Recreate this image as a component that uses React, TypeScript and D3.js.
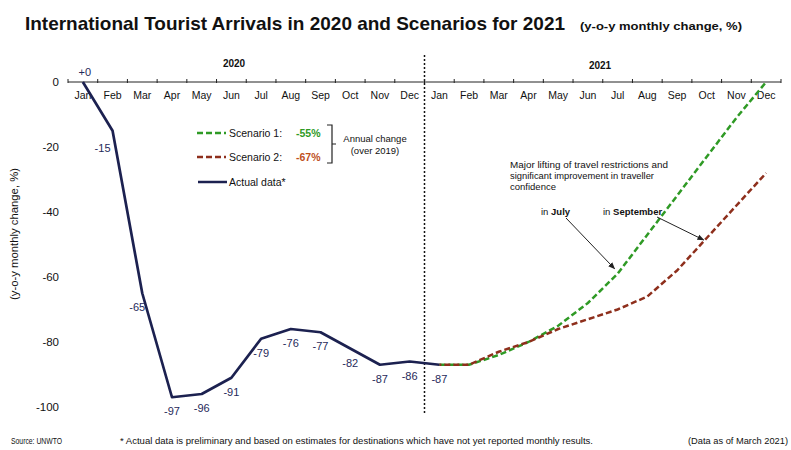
import React from "react";
import * as d3 from "d3";

const months = ["Jan","Feb","Mar","Apr","May","Jun","Jul","Aug","Sep","Oct","Nov","Dec"];
const periods = [...months.map((m) => "2020-" + m), ...months.map((m) => "2021-" + m)];
const actualKeys = [...months.map((m) => "2020-" + m), "2021-Jan"];
const actualValues = [0, -15, -65, -97, -96, -91, -79, -76, -77, -82, -87, -86, -87];
const actualLabels = ["+0", "-15", "-65", "-97", "-96", "-91", "-79", "-76", "-77", "-82", "-87", "-86", "-87"];
const scenarioKeys = months.map((m) => "2021-" + m);
const scenario1 = [-87, -87, -84, -80, -75, -68, -59, -47, -35, -23, -11, 0];
const scenario2 = [-87, -87, -83, -80, -76, -73, -70, -66, -58, -48, -38, -28];
const yTicks = [0, -20, -40, -60, -80, -100];

const FONT = "'Liberation Sans', Arial, sans-serif";
const NAVY = "#1c2150";
const GREEN = "#2f9a25";
const RED = "#8e2f1c";

export default function App() {
  const x = d3.scaleBand<string>().domain(periods).range([68, 781]).padding(0);
  const cx = (k: string) => (x(k) as number) + x.bandwidth() / 2;
  const y = d3.scaleLinear().domain([-100, 0]).range([407, 82]);

  const line = d3
    .line<[string, number]>()
    .x((d) => cx(d[0]))
    .y((d) => y(d[1]));

  const actual = actualKeys.map((k, i) => [k, actualValues[i]] as [string, number]);
  const s1 = scenarioKeys.map((k, i) => [k, scenario1[i]] as [string, number]);
  const s2 = scenarioKeys.map((k, i) => [k, scenario2[i]] as [string, number]);

  const sep = x("2021-Jan") as number;

  return (
    <svg width={791} height={450} style={{ position: "absolute", left: 0, top: 0, background: "#fff" }} fontFamily={FONT}>
      <defs>
        <marker id="arr" viewBox="0 0 10 10" refX="9" refY="5" markerWidth="7" markerHeight="7" orient="auto">
          <path d="M0,1 L10,5 L0,9 z" fill="#222" />
        </marker>
      </defs>
      <rect width={791} height={450} fill="#fff" />
      {/* Title */}
      <text x={25} y={30} fontSize={18.5} fontWeight="bold" fill="#111" textLength={540} lengthAdjust="spacingAndGlyphs">
        International Tourist Arrivals in 2020 and Scenarios for 2021
      </text>
      <text x={580} y={30} fontSize={11} fontWeight="bold" fill="#111" textLength={162} lengthAdjust="spacingAndGlyphs">
        (y-o-y monthly change, %)
      </text>

      {/* year labels */}
      <text x={234} y={67} fontSize={10} fontWeight="bold" textAnchor="middle" fill="#111">2020</text>
      <text x={600} y={69} fontSize={10} fontWeight="bold" textAnchor="middle" fill="#111">2021</text>

      {/* separator */}
      <line x1={sep} x2={sep} y1={55} y2={414} stroke="#111" strokeWidth={1.5} strokeDasharray="2,2" />

      {/* x axis */}
      <line x1={68} x2={781} y1={y(0)} y2={y(0)} stroke="#222" strokeWidth={1} />
      {[...periods, "end"].map((k, i) => {
        const xx = 68 + i * x.bandwidth();
        return <line key={"t" + i} x1={xx} x2={xx} y1={y(0) - 3} y2={y(0) + 1} stroke="#222" strokeWidth={1} />;
      })}
      {periods.map((k) => (
        <text key={k} x={cx(k)} y={99} fontSize={10.5} textAnchor="middle" fill="#111">
          {k.slice(5)}
        </text>
      ))}

      {/* y labels */}
      {yTicks.map((t) => (
        <text key={t} x={59} y={y(t) + 4} fontSize={11.5} textAnchor="end" fill="#111">
          {t}
        </text>
      ))}
      <text transform={`translate(18,234) rotate(-90)`} fontSize={10.5} textAnchor="middle" fill="#111" textLength={132} lengthAdjust="spacingAndGlyphs">
        (y-o-y monthly change, %)
      </text>

      {/* scenario lines */}
      <path d={line(s1) as string} fill="none" stroke={GREEN} strokeWidth={2.5} strokeDasharray="6,3" />
      <path d={line(s2) as string} fill="none" stroke={RED} strokeWidth={2.5} strokeDasharray="6,3" strokeDashoffset={4} />

      {/* actual line */}
      <path d={line(actual) as string} fill="none" stroke={NAVY} strokeWidth={2.7} strokeLinejoin="round" />
      {actual.map((d, i) => {
        const px = cx(d[0]);
        const py = y(d[1]);
        let lx = px, ly = py + 18;
        if (i === 0) { lx = px + 2; ly = py - 6; }
        if (i === 1) { lx = px - 10; ly = py + 21; }
        if (i === 2) { lx = px - 5; ly = py + 18; }
        return (
          <text key={"l" + i} x={lx} y={ly} fontSize={11} textAnchor="middle" fill="#1f2a5a">
            {actualLabels[i]}
          </text>
        );
      })}

      {/* legend */}
      <line x1={197} x2={226} y1={133} y2={133} stroke={GREEN} strokeWidth={2.5} strokeDasharray="6,3" />
      <text x={229} y={137} fontSize={10.5} fill="#111">Scenario 1:</text>
      <text x={296} y={137} fontSize={10.5} fontWeight="bold" fill={GREEN}>-55%</text>
      <line x1={197} x2={226} y1={157} y2={157} stroke={RED} strokeWidth={2.5} strokeDasharray="6,3" />
      <text x={229} y={161} fontSize={10.5} fill="#111">Scenario 2:</text>
      <text x={296} y={161} fontSize={10.5} fontWeight="bold" fill="#c0501c">-67%</text>
      <line x1={198} x2={227} y1={182} y2={182} stroke={NAVY} strokeWidth={2.5} />
      <text x={229} y={186} fontSize={10.5} fill="#111">Actual data*</text>
      <path d="M327,125 L332,125 L332,163 L327,163 M332,144 L336,144" fill="none" stroke="#222" strokeWidth={1.2} />
      <text x={375} y={142} fontSize={9.5} textAnchor="middle" fill="#111">Annual change</text>
      <text x={375} y={154} fontSize={9.5} textAnchor="middle" fill="#111">(over 2019)</text>

      {/* annotation */}
      <text x={510} y={168} fontSize={9.5} fill="#111" textLength={158} lengthAdjust="spacingAndGlyphs">Major lifting of travel restrictions and</text>
      <text x={510} y={179} fontSize={9.5} fill="#111" textLength={144} lengthAdjust="spacingAndGlyphs">significant improvement in traveller</text>
      <text x={510} y={190} fontSize={9.5} fill="#111">confidence</text>
      <text x={541} y={215} fontSize={9.5} fill="#111">in <tspan fontWeight="bold">July</tspan></text>
      <text x={603} y={215} fontSize={9.5} fill="#111">in <tspan fontWeight="bold">September</tspan></text>
      <line x1={566} y1={218} x2={cx("2021-Jul") - 3} y2={y(-59) - 5} stroke="#222" strokeWidth={1} markerEnd="url(#arr)" />
      <line x1={657} y1={217} x2={cx("2021-Oct") - 3} y2={y(-48) + 2} stroke="#222" strokeWidth={1} markerEnd="url(#arr)" />

      {/* footer */}
      <text x={11} y={444} fontSize={9.5} fill="#111" textLength={51} lengthAdjust="spacingAndGlyphs">Source: UNWTO</text>
      <text x={120} y={444} fontSize={9.5} fill="#111" textLength={473} lengthAdjust="spacingAndGlyphs">
        * Actual data is preliminary and based on estimates for destinations which have not yet reported monthly results.
      </text>
      <text x={688} y={444} fontSize={9.5} fill="#111" textLength={100} lengthAdjust="spacingAndGlyphs">(Data as of March 2021)</text>
    </svg>
  );
}
